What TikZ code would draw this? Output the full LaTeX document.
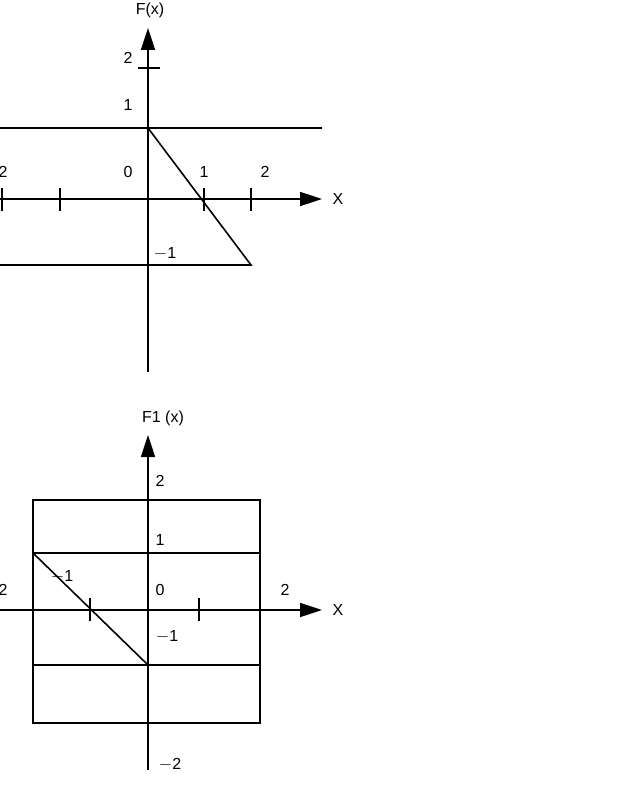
\documentclass[tikz,border=0pt]{standalone}
\usepackage{fontspec}
\setmainfont{Liberation Sans}
\usetikzlibrary{arrows.meta}
\begin{document}
\begin{tikzpicture}[x=1pt,y=-1pt,line width=1.6pt,
  lbl/.style={font=\fontsize{16}{18}\selectfont,inner sep=0pt},
  ax/.style={-{Triangle[length=22pt,width=14pt]}}]
\useasboundingbox (0,0) rectangle (630,799);
% top panel
\coordinate (yb) at (148,372); \coordinate (yt) at (148,28);
\draw[ax] (yb) -- (yt);
\coordinate (xl) at (0,199); \coordinate (xr) at (322,199);
\draw[ax] (xl) -- (xr);
\coordinate (h1) at (0,128); \coordinate (h2) at (322,128);
\draw (h1) -- (h2);
\coordinate (o1) at (148,128); \coordinate (p1) at (251,265); \coordinate (q1) at (0,265);
\draw (o1) -- (p1) -- (q1);
\foreach \x in {2,60,204,251} \draw (\x,188) -- (\x,211);
\draw (138,68) -- (160,68);
\node[lbl] (F) at (150,10) {F(x)};
\node[lbl] (X1) at (338,199) {X};
\node[lbl] at (128,58) {2};
\node[lbl] at (128,105) {1};
\node[lbl] at (128,172) {0};
\node[lbl] at (204,172) {1};
\node[lbl] at (265,172) {2};
\node[lbl] at (3,172) {2};
\node[lbl] at (165,254) {$-$1};
% bottom panel
\coordinate (yb2) at (148,770); \coordinate (yt2) at (148,435);
\draw[ax] (yb2) -- (yt2);
\coordinate (xl2) at (0,610); \coordinate (xr2) at (322,610);
\draw[ax] (xl2) -- (xr2);
\draw (33,500) rectangle (260,723);
\draw (33,553) -- (260,553);
\draw (33,665) -- (260,665);
\coordinate (a2) at (33,553); \coordinate (b2) at (148,665);
\draw (a2) -- (b2);
\foreach \x in {90,199} \draw (\x,598) -- (\x,621);
\node[lbl] (F1) at (163,418) {F1 (x)};
\node[lbl] (X2) at (338,610) {X};
\node[lbl] at (160,481) {2};
\node[lbl] at (160,540) {1};
\node[lbl] at (160,590) {0};
\node[lbl] at (167,637) {$-$1};
\node[lbl] at (62,577) {$-$1};
\node[lbl] at (3,590) {2};
\node[lbl] at (285,590) {2};
\node[lbl] at (170,765) {$-$2};
\end{tikzpicture}
\end{document}
